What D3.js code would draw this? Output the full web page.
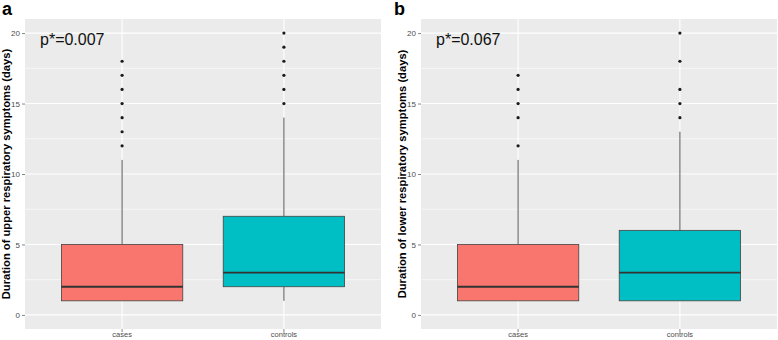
<!DOCTYPE html>
<html>
<head>
<meta charset="utf-8">
<script src="https://cdn.jsdelivr.net/npm/d3@7"></script>
<style>
  body { margin: 0; background: #fff; }
  svg { display: block; font-family: Arial, "Liberation Sans", sans-serif; }
</style>
</head>
<body>
<div id="chart-area"></div>
<script>
// Data
const categories = ["cases", "controls"];
const yTicks = [0, 5, 10, 15, 20];
const yMinor = [2.5, 7.5, 12.5, 17.5];
const panelLetters = ["a", "b"];
const pLabels = ["p*=0.007", "p*=0.067"];
const yTitles = [
  "Duration of upper respiratory symptoms (days)",
  "Duration of lower respiratory symptoms (days)"
];

// panel a: upper respiratory symptoms
const upperLow = [1, 1];
const upperQ1 = [1, 2];
const upperMedian = [2, 3];
const upperQ3 = [5, 7];
const upperHigh = [11, 14];
const upperOutliers = [[12, 13, 14, 15, 16, 17, 18], [15, 16, 17, 18, 19, 20]];

// panel b: lower respiratory symptoms
const lowerLow = [1, 1];
const lowerQ1 = [1, 1];
const lowerMedian = [2, 3];
const lowerQ3 = [5, 6];
const lowerHigh = [11, 13];
const lowerOutliers = [[12, 14, 15, 16, 17], [14, 15, 16, 18, 20]];

const fills = ["#F8766D", "#00BFC4"];

(function () {
  const W = 778, H = 340;
  const svg = d3.select("#chart-area").append("svg")
    .attr("width", W).attr("height", H);

  const panels = [
    { left: 25, low: upperLow, q1: upperQ1, med: upperMedian, q3: upperQ3, high: upperHigh, out: upperOutliers },
    { left: 421, low: lowerLow, q1: lowerQ1, med: lowerMedian, q3: lowerQ3, high: lowerHigh, out: lowerOutliers }
  ];
  const plotW = 356, top = 19, bottom = 329;

  const y = d3.scaleLinear().domain([-1, 21]).range([bottom, top]);

  panels.forEach((p, i) => {
    const x = d3.scaleBand().domain(categories)
      .range([p.left, p.left + plotW])
      .paddingInner(0.25).paddingOuter(0.225);
    const cx = (c) => x(c) + x.bandwidth() / 2;

    const g = svg.append("g");

    // panel background
    g.append("rect")
      .attr("x", p.left).attr("y", top)
      .attr("width", plotW).attr("height", bottom - top)
      .attr("fill", "#ebebeb");

    // grid lines
    g.selectAll(".minor").data(yMinor).join("line")
      .attr("x1", p.left).attr("x2", p.left + plotW)
      .attr("y1", (d) => y(d)).attr("y2", (d) => y(d))
      .attr("stroke", "#fff").attr("stroke-width", 0.6);
    g.selectAll(".major").data(yTicks).join("line")
      .attr("x1", p.left).attr("x2", p.left + plotW)
      .attr("y1", (d) => y(d)).attr("y2", (d) => y(d))
      .attr("stroke", "#fff").attr("stroke-width", 1.1);
    g.selectAll(".vmajor").data(categories).join("line")
      .attr("x1", cx).attr("x2", cx)
      .attr("y1", top).attr("y2", bottom)
      .attr("stroke", "#fff").attr("stroke-width", 1.1);

    // axes
    const yAxis = g.append("g")
      .attr("transform", `translate(${p.left},0)`)
      .call(d3.axisLeft(y).tickValues(yTicks).tickSize(3).tickPadding(2));
    const xAxis = g.append("g")
      .attr("transform", `translate(0,${bottom})`)
      .call(d3.axisBottom(x).tickSize(3).tickPadding(0));
    [yAxis, xAxis].forEach((a) => {
      a.select(".domain").remove();
      a.selectAll(".tick line").attr("stroke", "#333").attr("stroke-width", 0.6);
      a.selectAll(".tick text").attr("fill", "#4d4d4d").attr("font-size", 8);
    });
    xAxis.selectAll(".tick text").attr("font-size", 7.5);

    // boxes
    categories.forEach((c, j) => {
      const bx = g.append("g");
      bx.append("line")
        .attr("x1", cx(c)).attr("x2", cx(c))
        .attr("y1", y(p.q3[j])).attr("y2", y(p.high[j]))
        .attr("stroke", "#555").attr("stroke-width", 1);
      bx.append("line")
        .attr("x1", cx(c)).attr("x2", cx(c))
        .attr("y1", y(p.q1[j])).attr("y2", y(p.low[j]))
        .attr("stroke", "#555").attr("stroke-width", 1);
      bx.append("rect")
        .attr("x", x(c)).attr("width", x.bandwidth())
        .attr("y", y(p.q3[j])).attr("height", y(p.q1[j]) - y(p.q3[j]))
        .attr("fill", fills[j]).attr("stroke", "#444").attr("stroke-width", 0.8);
      bx.append("line")
        .attr("x1", x(c)).attr("x2", x(c) + x.bandwidth())
        .attr("y1", y(p.med[j])).attr("y2", y(p.med[j]))
        .attr("stroke", "#333").attr("stroke-width", 1.8);
      bx.selectAll("circle").data(p.out[j]).join("circle")
        .attr("cx", cx(c)).attr("cy", (d) => y(d))
        .attr("r", 1.6).attr("fill", "#1a1a1a");
    });

    // p value annotation
    g.append("text")
      .attr("x", p.left + 15).attr("y", 45)
      .attr("font-size", 16).attr("fill", "#111")
      .text(pLabels[i]);

    // y title
    g.append("text")
      .attr("transform", `translate(${p.left - 15},${(top + bottom) / 2}) rotate(-90)`)
      .attr("text-anchor", "middle")
      .attr("font-size", 11.2).attr("font-weight", "bold").attr("fill", "#000")
      .text(yTitles[i]);

    // panel letter
    svg.append("text")
      .attr("x", i === 0 ? 2 : 394).attr("y", 15)
      .attr("font-size", 18).attr("font-weight", "bold")
      .text(panelLetters[i]);
  });
})();
</script>
</body>
</html>
